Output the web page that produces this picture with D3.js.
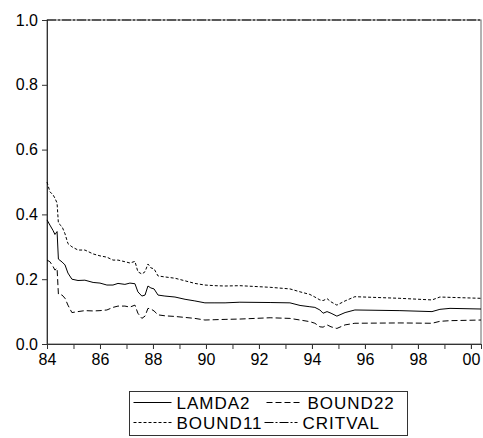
<!DOCTYPE html>
<html>
<head>
<meta charset="utf-8">
<script src="https://cdn.jsdelivr.net/npm/d3@7/dist/d3.min.js"></script>
<style>
  body { margin: 0; background: #fff; }
  text { font-family: "Liberation Sans", Arial, sans-serif; }
</style>
</head>
<body>
<div class="chart"></div>
<script>
// dates in decimal years
const dates = [1984.00, 1984.11, 1984.23, 1984.30, 1984.38, 1984.43, 1984.57, 1984.68, 1984.79, 1984.94,
  1985.17, 1985.43, 1985.74, 1986.00, 1986.26, 1986.49, 1986.68, 1986.94, 1987.13, 1987.32,
  1987.43, 1987.58, 1987.70, 1987.81, 1987.92, 1988.04, 1988.19, 1988.45, 1988.83, 1989.21,
  1989.58, 1989.96, 1990.34, 1990.72, 1991.28, 1992.42, 1993.17, 1993.55, 1993.92, 1994.11,
  1994.30, 1994.42, 1994.57, 1994.72, 1994.94, 1995.25, 1995.62, 1997.32, 1998.53, 1998.83,
  1999.21, 2000.38];

const lamda2 = [0.383, 0.367, 0.35, 0.338, 0.347, 0.262, 0.253, 0.244, 0.219, 0.200,
  0.196, 0.197, 0.190, 0.188, 0.182, 0.182, 0.187, 0.184, 0.188, 0.186,
  0.161, 0.148, 0.151, 0.179, 0.173, 0.170, 0.151, 0.148, 0.145, 0.138,
  0.133, 0.127, 0.127, 0.127, 0.129, 0.128, 0.127, 0.119, 0.115, 0.113,
  0.105, 0.095, 0.100, 0.095, 0.086, 0.097, 0.105, 0.103, 0.100, 0.107,
  0.110, 0.108];

const bound11 = [0.500, 0.470, 0.460, 0.450, 0.435, 0.373, 0.362, 0.340, 0.310, 0.300,
  0.290, 0.290, 0.278, 0.272, 0.268, 0.259, 0.259, 0.254, 0.250, 0.255,
  0.223, 0.216, 0.223, 0.247, 0.235, 0.232, 0.210, 0.207, 0.203, 0.195,
  0.187, 0.182, 0.180, 0.179, 0.180, 0.175, 0.170, 0.161, 0.153, 0.145,
  0.136, 0.134, 0.140, 0.130, 0.120, 0.133, 0.146, 0.141, 0.136, 0.145,
  0.144, 0.141];

const bound22 = [0.259, 0.254, 0.239, 0.228, 0.234, 0.154, 0.151, 0.141, 0.120, 0.097,
  0.100, 0.103, 0.102, 0.103, 0.105, 0.113, 0.117, 0.117, 0.114, 0.120,
  0.095, 0.079, 0.086, 0.110, 0.108, 0.102, 0.090, 0.087, 0.085, 0.082,
  0.079, 0.074, 0.075, 0.076, 0.077, 0.081, 0.079, 0.074, 0.069, 0.064,
  0.053, 0.052, 0.059, 0.053, 0.048, 0.059, 0.064, 0.065, 0.064, 0.070,
  0.072, 0.074];

const critval = dates.map(() => 1.0);

const yTicks = [0.0, 0.2, 0.4, 0.6, 0.8, 1.0];
const xTicks = [1984, 1986, 1988, 1990, 1992, 1994, 1996, 1998, 2000];
const xMinorTicks = d3.range(1984, 2001);

const seriesNames = ["LAMDA2", "BOUND22", "BOUND11", "CRITVAL"];

const width = 483, height = 438;
const margin = { top: 20, right: 2, bottom: 94, left: 47 };

const dashes = {
  LAMDA2: null,
  BOUND11: "3,2",
  BOUND22: "6,3",
  CRITVAL: "9,2,2,2"
};

const seriesData = {
  LAMDA2: lamda2,
  BOUND11: bound11,
  BOUND22: bound22,
  CRITVAL: critval
};

let svg, plot, xScale, yScale;

const createChart = () => {
  svg = d3.select(".chart")
    .append("svg")
    .attr("width", width)
    .attr("height", height);

  plot = svg.append("g");
};

const createScales = () => {
  xScale = d3.scaleLinear()
    .domain([1984, 2000.38])
    .range([margin.left, width - margin.right]);

  yScale = d3.scaleLinear()
    .domain([0, 1])
    .range([height - margin.bottom, margin.top]);
};

const createAxes = () => {
  // frame
  plot.append("rect")
    .attr("x", xScale(1984))
    .attr("y", yScale(1))
    .attr("width", xScale(2000.38) - xScale(1984))
    .attr("height", yScale(0) - yScale(1))
    .attr("fill", "none")
    .attr("stroke", "#666")
    .attr("stroke-width", 1);

  const yAxis = d3.axisLeft(yScale)
    .tickValues(yTicks)
    .tickFormat(d3.format(".1f"))
    .tickSize(5)
    .tickPadding(4);

  const gy = plot.append("g")
    .attr("transform", `translate(${xScale(1984)},0)`)
    .call(yAxis);

  const xAxisMinor = d3.axisBottom(xScale)
    .tickValues(xMinorTicks)
    .tickFormat("")
    .tickSize(5);

  const gxm = plot.append("g")
    .attr("transform", `translate(0,${yScale(0)})`)
    .call(xAxisMinor);

  const xAxis = d3.axisBottom(xScale)
    .tickValues(xTicks)
    .tickFormat(d => d3.format("02d")(d % 100))
    .tickSize(5)
    .tickPadding(5);

  const gx = plot.append("g")
    .attr("transform", `translate(0,${yScale(0)})`)
    .call(xAxis);

  [gy, gx, gxm].forEach(g => {
    g.select(".domain").attr("stroke", "#333");
    g.selectAll(".tick line").attr("stroke", "#333");
    g.selectAll(".tick text")
      .attr("fill", "#000")
      .style("font-size", "16px")
      .style("font-family", "'Liberation Sans', Arial, sans-serif");
  });
};

const createLines = () => {
  const line = d3.line()
    .x((d, i) => xScale(dates[i]))
    .y(d => yScale(d));

  ["CRITVAL", "BOUND22", "BOUND11", "LAMDA2"].forEach(name => {
    plot.append("path")
      .datum(seriesData[name])
      .attr("d", line)
      .attr("fill", "none")
      .attr("stroke", "#000")
      .attr("stroke-width", 1)
      .attr("stroke-dasharray", dashes[name]);
  });
};

const createLegend = () => {
  const legend = svg.append("g")
    .attr("transform", "translate(129.5,391.5)");

  legend.append("rect")
    .attr("width", 278)
    .attr("height", 44)
    .attr("fill", "#fff")
    .attr("stroke", "#333")
    .attr("stroke-width", 1);

  const pos = [
    { x: 4, y: 11 },
    { x: 137, y: 11 },
    { x: 4, y: 31 },
    { x: 135, y: 31 }
  ];
  const lineLen = [38, 36, 38, 33];

  seriesNames.forEach((name, i) => {
    const p = pos[i];
    legend.append("line")
      .attr("x1", p.x)
      .attr("x2", p.x + lineLen[i])
      .attr("y1", p.y)
      .attr("y2", p.y)
      .attr("stroke", "#000")
      .attr("stroke-width", 1)
      .attr("stroke-dasharray", dashes[name]);

    legend.append("text")
      .attr("x", p.x + lineLen[i] + 5)
      .attr("y", p.y + 6)
      .style("font-size", "17px")
      .style("letter-spacing", "1px")
      .text(name);
  });
};

createChart();
createScales();
createAxes();
createLines();
createLegend();
</script>
</body>
</html>
